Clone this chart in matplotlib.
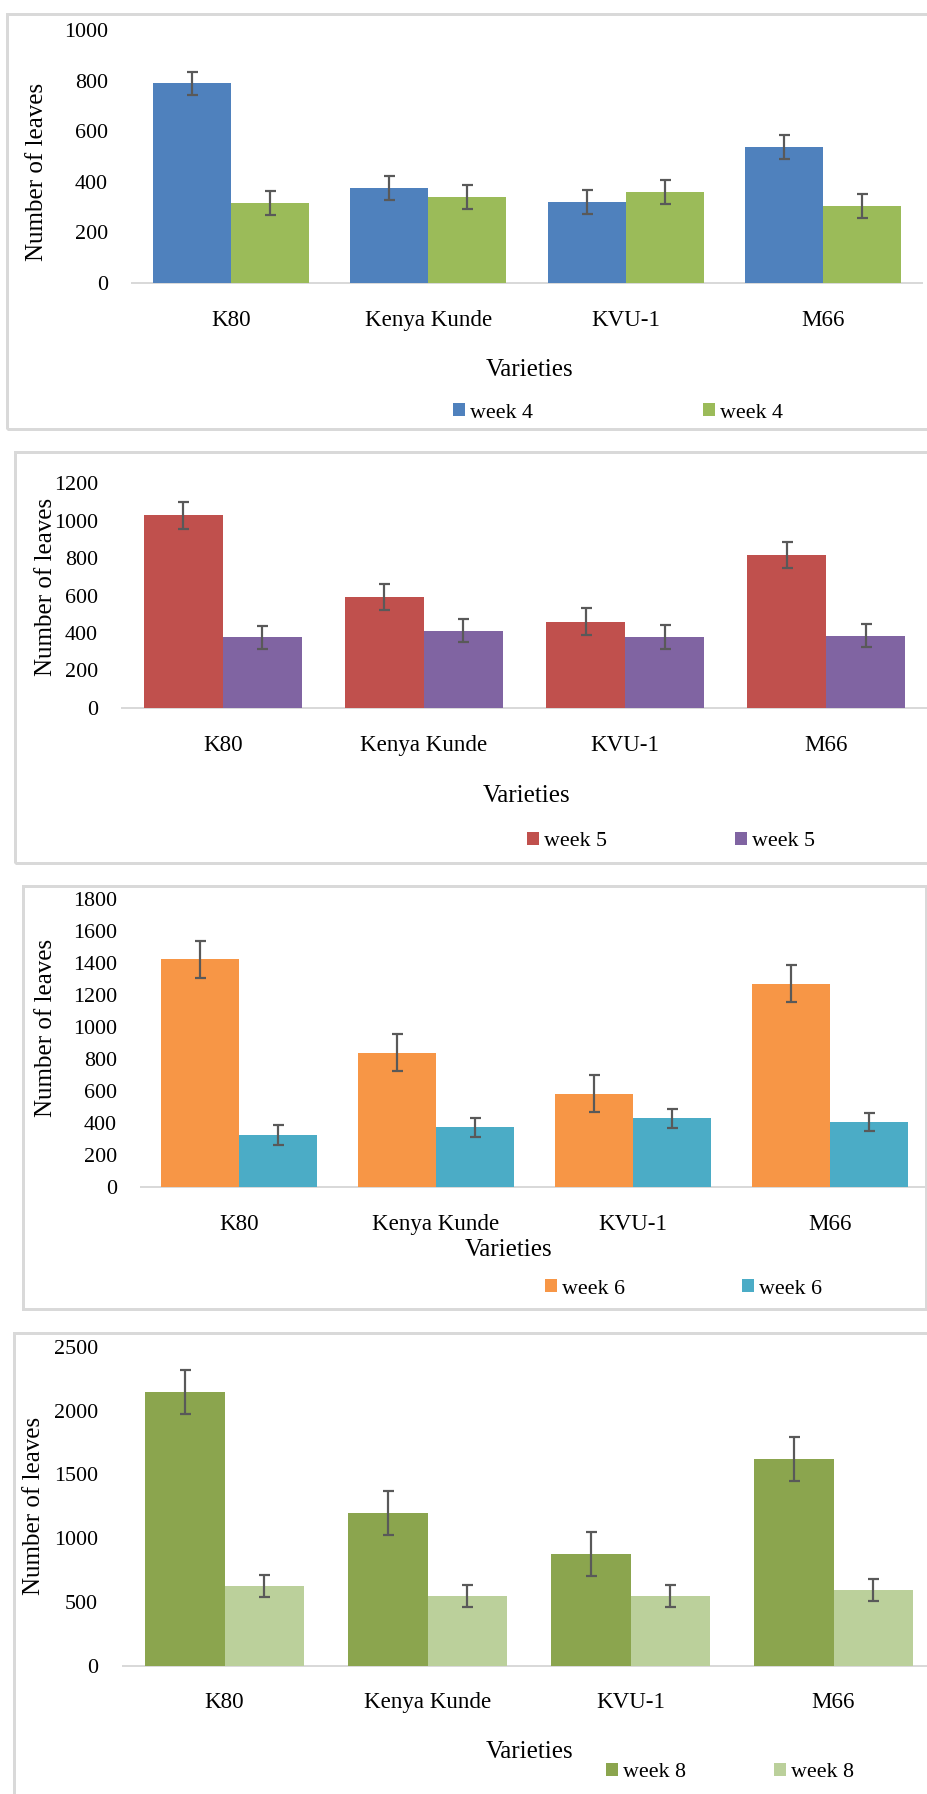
import matplotlib
matplotlib.use("Agg")
import matplotlib.pyplot as plt
from matplotlib.patches import Rectangle
import numpy as np

plt.rcParams['font.family'] = ['Liberation Serif', 'DejaVu Serif']

W, H = 927, 1794
DPI = 100

varieties = ["K80", "Kenya Kunde", "KVU-1", "M66"]

# Week 4
wk4_a = [789, 375, 320, 537]
wk4_a_err = [46, 48, 48, 48]
wk4_b = [316, 339, 359, 304]
wk4_b_err = [46, 48, 48, 48]

# Week 5
wk5_a = [1030, 590, 460, 818]
wk5_a_err = [72, 70, 73, 70]
wk5_b = [376, 412, 376, 385]
wk5_b_err = [63, 63, 64, 63]

# Week 6
wk6_a = [1425, 842, 585, 1273]
wk6_a_err = [115, 117, 117, 114]
wk6_b = [327, 375, 431, 408]
wk6_b_err = [62, 60, 60, 58]

# Week 8
wk8_a = [2145, 1200, 877, 1621]
wk8_a_err = [173, 172, 174, 174]
wk8_b = [626, 548, 548, 595]
wk8_b_err = [86, 86, 85, 87]

yticks_4 = [0, 200, 400, 600, 800, 1000]
yticks_5 = [0, 200, 400, 600, 800, 1000, 1200]
yticks_6 = [0, 200, 400, 600, 800, 1000, 1200, 1400, 1600, 1800]
yticks_8 = [0, 500, 1000, 1500, 2000, 2500]


def pt(px):
    return px * 72.0 / DPI


fig = plt.figure(figsize=(W / DPI, H / DPI), dpi=DPI)
fig.patch.set_facecolor("white")

panels = [
    dict(a=wk4_a, ae=wk4_a_err, b=wk4_b, be=wk4_b_err, labels=("week 4", "week 4"),
         colors=("#4F81BD", "#9BBB59"), ticks=yticks_4,
         ax_lr=(132, 922), y0=283, ytop=30, bar_w=0.395, tickpad=24,
         ylab=(37, 171.5), xlab=(530, 370), catlab_y=323,
         leg=(453, 413), colsp=7.7, frame=(7, 14.5, 429, 945)),
    dict(a=wk5_a, ae=wk5_a_err, b=wk5_b, be=wk5_b_err, labels=("week 5", "week 5"),
         colors=("#C0504D", "#8064A2"), ticks=yticks_5,
         ax_lr=(122, 927), y0=707.7, ytop=483.3, bar_w=0.392, tickpad=24,
         ylab=(46, 587), xlab=(527, 796), catlab_y=748,
         leg=(527, 841.7), colsp=5.8, frame=(15, 452.5, 862.7, 945)),
    dict(a=wk6_a, ae=wk6_a_err, b=wk6_b, be=wk6_b_err, labels=("week 6", "week 6"),
         colors=("#F79646", "#4BACC6"), ticks=yticks_6,
         ax_lr=(140.5, 928.5), y0=1187.3, ytop=899.3, bar_w=0.396, tickpad=23.5,
         ylab=(46, 1028), xlab=(509, 1250), catlab_y=1226.7,
         leg=(545, 1289), colsp=5.3, frame=(22.5, 886, 1309, 926)),
    dict(a=wk8_a, ae=wk8_a_err, b=wk8_b, be=wk8_b_err, labels=("week 8", "week 8"),
         colors=("#8BA54E", "#BBD09B"), ticks=yticks_8,
         ax_lr=(123, 935), y0=1666, ytop=1346.7, bar_w=0.392, tickpad=25,
         ylab=(34, 1506), xlab=(530, 1751.7), catlab_y=1705,
         leg=(606, 1772.7), colsp=4.0, frame=(14, 1333, 1810, 945)),
]

frame_color = "#D9D9D9"
err_color = "#595959"
tick_px = 22
cat_px = 23
title_px = 25
leg_px = 22

for p in panels:
    # outer chart frame (sides beyond the page edge are simply cut off)
    fl, ft, fb, fr = p["frame"]
    fig.patches.append(Rectangle((fl / W, 1 - fb / H), (fr - fl) / W, (fb - ft) / H,
                                 transform=fig.transFigure, fill=False,
                                 edgecolor=frame_color, linewidth=pt(3), zorder=0))

    l, r = p["ax_lr"]
    ax = fig.add_axes([l / W, 1 - p["y0"] / H, (r - l) / W, (p["y0"] - p["ytop"]) / H])
    ax.set_facecolor("none")
    x = np.arange(len(varieties))
    bw = p["bar_w"]
    err_kw = dict(ecolor=err_color, elinewidth=pt(2.2), capsize=pt(5.5), capthick=pt(2.2))
    h1 = ax.bar(x - bw / 2, p["a"], width=bw, color=p["colors"][0], yerr=p["ae"],
                error_kw=err_kw, label=p["labels"][0], zorder=2)
    h2 = ax.bar(x + bw / 2, p["b"], width=bw, color=p["colors"][1], yerr=p["be"],
                error_kw=err_kw, label=p["labels"][1], zorder=2)
    ax.set_xlim(-0.5, len(varieties) - 0.5)
    ax.set_ylim(p["ticks"][0], p["ticks"][-1])
    ax.set_yticks(p["ticks"])
    ax.set_yticklabels([str(t) for t in p["ticks"]], fontsize=pt(tick_px))
    ax.set_xticks(x)
    ax.set_xticklabels(varieties, fontsize=pt(cat_px))
    ax.tick_params(axis="y", length=0, pad=pt(p["tickpad"]))
    ax.tick_params(axis="x", length=0, pad=pt(p["catlab_y"] - p["y0"] - 13))
    for s in ("top", "right", "left"):
        ax.spines[s].set_visible(False)
    ax.spines["bottom"].set_color(frame_color)
    ax.spines["bottom"].set_linewidth(pt(2))
    ax.spines["bottom"].set_zorder(1)

    # axis titles, positioned by their centres
    ax.set_ylabel("Number of leaves", fontsize=pt(title_px))
    ax.yaxis.set_label_coords(p["ylab"][0] / W, 1 - p["ylab"][1] / H, transform=fig.transFigure)
    ax.yaxis.label.set_va("center")
    ax.set_xlabel("Varieties", fontsize=pt(title_px))
    ax.xaxis.set_label_coords(p["xlab"][0] / W, 1 - p["xlab"][1] / H, transform=fig.transFigure)
    ax.xaxis.label.set_va("center")

    fig.legend(handles=[h1, h2], labels=list(p["labels"]), ncol=2, frameon=False,
               loc="center left", bbox_to_anchor=(p["leg"][0] / W, 1 - p["leg"][1] / H),
               bbox_transform=fig.transFigure, fontsize=pt(leg_px),
               borderpad=0, borderaxespad=0, handlelength=0.55, handleheight=0.5,
               handletextpad=0.23, columnspacing=p["colsp"])

fig.savefig("out.png", dpi=DPI, facecolor="white")
